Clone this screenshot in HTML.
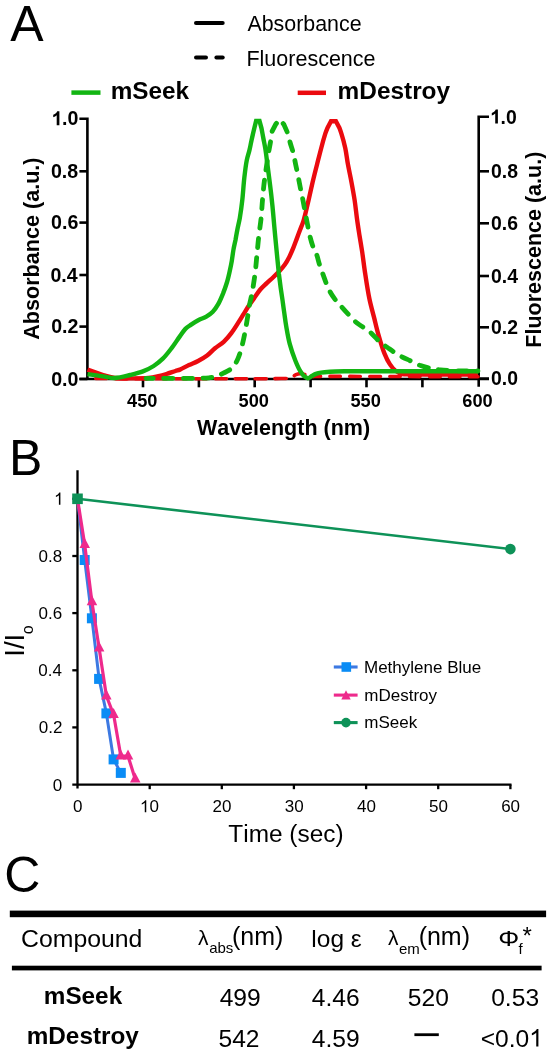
<!DOCTYPE html>
<html><head><meta charset="utf-8"><style>
html,body{margin:0;padding:0;background:#fff;}
svg{display:block;font-family:"Liberation Sans",sans-serif;will-change:transform;font-kerning:none;}
</style></head><body>
<svg width="553" height="1050" viewBox="0 0 553 1050">
<rect width="553" height="1050" fill="#fff"/>
<text x="10.20" y="40.70" font-size="50" fill="#000" >A</text>
<line x1="196" y1="23.1" x2="222.7" y2="23.1" stroke="#000" stroke-width="4" stroke-linecap="round"/>
<line x1="196" y1="57.4" x2="206" y2="57.4" stroke="#000" stroke-width="4" stroke-linecap="round"/>
<line x1="216.4" y1="57.4" x2="222.7" y2="57.4" stroke="#000" stroke-width="4" stroke-linecap="round"/>
<text x="247.46" y="31.20" font-size="21.4" fill="#000" >Absorbance</text>
<text x="246.44" y="65.60" font-size="21.5" fill="#000" >Fluorescence</text>
<line x1="71.4" y1="92.6" x2="100.5" y2="92.6" stroke="#12b512" stroke-width="4.5"/>
<text x="110.70" y="98.50" font-size="24.3" font-weight="bold" fill="#000" >mSeek</text>
<line x1="297.7" y1="92.8" x2="326" y2="92.8" stroke="#eb0a0f" stroke-width="4.5"/>
<text x="337.59" y="98.50" font-size="24.4" font-weight="bold" fill="#000" >mDestroy</text>
<path d="M79.4,118.8H87.4V379.0" stroke="#000" stroke-width="2.6" fill="none"/>
<path d="M489,116.8H478.7V386.8" stroke="#000" stroke-width="2.6" fill="none"/>
<path d="M79.4,379 H489" stroke="#000" stroke-width="2.6" fill="none"/>
<path d="M79.4,171.3H87.4" stroke="#000" stroke-width="2.6" fill="none"/>
<path d="M79.4,222.6H87.4" stroke="#000" stroke-width="2.6" fill="none"/>
<path d="M79.4,275.0H87.4" stroke="#000" stroke-width="2.6" fill="none"/>
<path d="M79.4,326.6H87.4" stroke="#000" stroke-width="2.6" fill="none"/>
<path d="M79.4,379.0H87.4" stroke="#000" stroke-width="2.6" fill="none"/>
<path d="M478.7,171.3H489" stroke="#000" stroke-width="2.6" fill="none"/>
<path d="M478.7,223.3H489" stroke="#000" stroke-width="2.6" fill="none"/>
<path d="M478.7,276.0H489" stroke="#000" stroke-width="2.6" fill="none"/>
<path d="M478.7,327.3H489" stroke="#000" stroke-width="2.6" fill="none"/>
<path d="M478.7,378.6H489" stroke="#000" stroke-width="2.6" fill="none"/>
<path d="M143,379V387.3" stroke="#000" stroke-width="2.6" fill="none"/>
<path d="M198.9,379V387.3" stroke="#000" stroke-width="2.6" fill="none"/>
<path d="M254.7,379V387.3" stroke="#000" stroke-width="2.6" fill="none"/>
<path d="M310.6,379V387.3" stroke="#000" stroke-width="2.6" fill="none"/>
<path d="M366.5,379V387.3" stroke="#000" stroke-width="2.6" fill="none"/>
<path d="M422.4,379V387.3" stroke="#000" stroke-width="2.6" fill="none"/>
<path transform="translate(51.16,125.30) scale(0.01960,-0.01960)" d="M420 0H283V516Q208 446 106 412V536Q160 554 223 603T309 716H420V0Z" fill="#000"/><text x="62.05" y="125.30" font-size="19.6" font-weight="bold" fill="#000" >.0</text>
<text x="50.96" y="177.80" font-size="19.6" font-weight="bold" fill="#000" >0.8</text>
<text x="51.06" y="229.10" font-size="19.6" font-weight="bold" fill="#000" >0.6</text>
<text x="50.46" y="281.50" font-size="19.6" font-weight="bold" fill="#000" >0.4</text>
<text x="51.14" y="333.10" font-size="19.6" font-weight="bold" fill="#000" >0.2</text>
<text x="51.16" y="385.50" font-size="19.6" font-weight="bold" fill="#000" >0.0</text>
<path transform="translate(489.74,123.50) scale(0.01940,-0.01940)" d="M420 0H283V516Q208 446 106 412V536Q160 554 223 603T309 716H420V0Z" fill="#000"/><text x="500.53" y="123.50" font-size="19.4" font-weight="bold" fill="#000" >.0</text>
<text x="491.03" y="178.00" font-size="19.4" font-weight="bold" fill="#000" >0.8</text>
<text x="491.03" y="230.00" font-size="19.4" font-weight="bold" fill="#000" >0.6</text>
<text x="491.03" y="282.70" font-size="19.4" font-weight="bold" fill="#000" >0.4</text>
<text x="491.03" y="334.00" font-size="19.4" font-weight="bold" fill="#000" >0.2</text>
<text x="491.03" y="385.30" font-size="19.4" font-weight="bold" fill="#000" >0.0</text>
<text x="127.05" y="407.30" font-size="18.2" font-weight="bold" fill="#000" >450</text>
<text x="238.61" y="407.30" font-size="18.2" font-weight="bold" fill="#000" >500</text>
<text x="350.41" y="407.30" font-size="18.2" font-weight="bold" fill="#000" >550</text>
<text x="462.36" y="407.30" font-size="18.2" font-weight="bold" fill="#000" >600</text>
<text x="196.88" y="435.20" font-size="21.5" font-weight="bold" fill="#000" >Wavelength (nm)</text>
<text transform="translate(38.90,248.90) rotate(-90)" x="-90.95" y="0" font-size="21.6" font-weight="bold">Absorbance (a.u.)</text>
<text transform="translate(541.10,249.50) rotate(-90)" x="-98.16" y="0" font-size="21.5" font-weight="bold">Fluorescence (a.u.)</text>
<path d="M87.5,378.5C87.5,378.5 257.1,379.2 281.0,378.5C286.4,378.3 288.3,378.8 291.0,377.9C293.1,377.2 294.4,375.3 296.0,374.6C297.4,374.0 298.7,373.7 300.0,373.6C301.3,373.5 302.6,373.8 304.0,374.2C305.6,374.6 307.3,375.6 309.0,376.0C310.6,376.4 314.0,376.4 314.0,376.4" fill="none" stroke="#eb0a0f" stroke-width="3.6" stroke-dasharray="11.2 8.7" stroke-dashoffset="11.55" stroke-linecap="round"/>
<path d="M311.8,376.4C311.8,376.4 371.5,376.4 400.0,376.5C426.8,376.6 478.0,376.8 478.0,376.8" fill="none" stroke="#eb0a0f" stroke-width="3.6" stroke-dasharray="10.5 9.4" stroke-dashoffset="1.7" stroke-linecap="round"/>
<path d="M87.5,369.6C87.5,369.6 98.2,373.5 103.1,375.0C107.3,376.2 110.6,377.4 114.8,378.0C119.5,378.7 124.7,378.4 130.0,378.4C135.8,378.4 143.3,378.5 148.3,378.0C151.8,377.6 154.3,377.1 157.3,376.4C160.3,375.7 163.4,374.9 166.4,374.0C169.4,373.1 172.9,371.8 175.4,371.0C177.2,370.4 178.2,370.3 180.0,369.6C182.5,368.6 186.0,366.4 189.0,365.0C192.0,363.6 195.1,362.6 198.1,361.0C201.2,359.4 204.3,357.6 207.1,355.5C209.9,353.4 212.2,350.6 215.0,348.3C217.8,346.0 221.0,344.3 223.7,341.8C226.5,339.2 229.0,336.2 231.3,333.1C233.7,330.0 235.8,326.6 237.8,323.4C239.7,320.4 241.4,317.6 243.2,314.7C245.0,311.8 246.8,308.8 248.6,306.0C250.4,303.4 252.1,301.0 254.0,298.4C256.0,295.6 258.1,292.1 260.3,289.5C262.3,287.2 264.4,285.4 266.5,283.4C268.6,281.4 270.9,279.5 273.0,277.5C275.2,275.4 277.5,273.2 279.5,271.0C281.4,268.9 283.3,266.8 284.9,264.5C286.6,262.1 287.9,259.6 289.3,256.9C290.8,253.9 292.3,250.3 293.6,247.1C294.8,244.1 295.8,241.3 296.9,238.4C298.0,235.5 299.0,232.7 300.1,229.8C301.2,226.9 302.5,224.1 303.4,221.1C304.4,218.1 305.0,215.2 305.8,212.0C306.7,208.4 307.5,204.7 308.5,200.4C309.7,195.0 311.2,188.3 312.6,182.3C314.0,176.3 315.6,170.0 317.1,164.2C318.5,158.7 319.8,153.4 321.2,148.2C322.5,143.2 324.1,137.5 325.3,133.7C326.1,131.2 327.6,127.6 327.6,127.6L331.0,121.2L335.9,121.2L339.3,127.6C339.3,127.6 340.6,131.2 341.4,133.7C342.6,137.5 344.2,143.2 345.3,148.2C346.4,153.4 346.9,158.7 347.9,164.2C349.0,170.1 350.4,176.3 351.5,182.3C352.6,188.2 353.7,194.1 354.6,200.0C355.5,206.0 356.1,212.1 356.9,218.1C357.7,224.1 358.7,230.4 359.6,236.2C360.5,241.6 361.3,246.3 362.2,252.0C363.2,258.8 364.1,266.8 365.3,274.4C366.5,282.4 367.8,291.1 369.4,298.8C370.8,305.7 372.7,312.2 374.3,318.4C375.7,324.1 376.8,329.0 378.4,334.6C380.1,340.6 382.2,348.0 384.4,353.3C386.1,357.5 387.8,361.1 389.8,364.1C391.5,366.6 393.1,368.8 395.2,370.5C397.3,372.1 399.9,373.4 402.4,374.0C404.8,374.6 406.6,374.3 410.0,374.4C416.7,374.6 429.4,374.5 440.0,374.5C451.9,374.5 478.0,374.5 478.0,374.5" fill="none" stroke="#eb0a0f" stroke-width="4.4" stroke-linejoin="miter"/>
<path d="M87.5,374.1C87.5,374.1 98.3,375.7 103.1,376.4C107.3,377.0 110.6,378.1 114.8,378.0C119.6,377.9 125.3,376.2 130.2,375.0C134.7,373.9 138.9,372.9 142.9,371.4C146.7,369.9 150.4,368.1 153.7,366.0C157.0,363.9 159.9,361.5 162.8,358.7C166.0,355.6 168.9,351.6 171.8,347.9C174.7,344.1 177.5,339.5 180.0,336.1C182.0,333.4 183.5,330.8 185.4,328.9C186.9,327.4 188.2,326.6 190.0,325.4C192.4,323.7 195.8,321.5 198.7,320.0C201.3,318.7 203.9,318.1 206.3,316.7C208.6,315.3 210.9,313.8 212.8,311.8C214.9,309.7 216.6,307.0 218.2,304.2C220.0,301.0 221.6,297.0 223.1,293.4C224.5,289.8 225.8,286.1 226.9,282.5C228.0,278.9 228.8,275.3 229.6,271.7C230.4,268.1 231.2,264.4 231.8,260.8C232.4,257.2 232.8,253.5 233.4,250.0C234.0,246.6 234.8,243.3 235.5,240.0C236.1,236.7 236.6,233.5 237.3,230.0C238.0,226.2 239.0,222.5 239.8,218.1C240.7,212.7 241.6,206.3 242.3,200.0C243.1,193.0 243.5,184.9 244.3,178.0C245.0,171.9 245.7,165.7 246.7,160.6C247.5,156.6 248.7,153.5 249.5,150.0C250.3,146.6 250.8,143.5 251.6,140.0C252.4,136.2 254.3,128.3 254.3,128.3L256.1,121.0L259.5,121.0L261.5,128.3C261.5,128.3 262.7,134.7 263.3,138.0C263.9,141.3 264.6,144.3 265.2,148.0C266.0,152.7 266.7,158.8 267.4,164.2C268.1,169.6 268.8,175.0 269.5,180.5C270.2,186.2 271.0,192.3 271.6,198.0C272.2,203.4 272.7,208.2 273.2,214.0C273.8,220.8 274.5,229.0 275.2,236.2C275.8,243.0 276.5,249.6 277.1,256.0C277.7,262.1 278.3,268.4 278.9,274.0C279.5,279.0 280.1,283.5 280.7,288.0C281.3,292.2 281.9,296.1 282.5,300.0C283.0,303.7 283.4,307.0 284.0,311.0C284.7,315.7 285.3,320.9 286.2,326.2C287.2,332.0 288.2,338.4 289.8,344.2C291.3,349.8 293.4,355.7 295.3,360.5C296.9,364.5 298.6,368.4 300.3,371.2C301.6,373.3 302.9,375.1 304.3,376.3C305.4,377.2 306.7,378.2 307.9,378.2C309.2,378.2 310.5,376.7 311.8,376.0C313.2,375.3 314.5,374.5 316.0,373.9C317.6,373.3 319.1,372.9 321.0,372.6C323.5,372.2 326.6,372.0 330.0,371.8C334.4,371.5 340.0,371.4 345.0,371.3C350.0,371.2 353.3,371.2 360.0,371.2C373.3,371.2 400.2,371.3 420.0,371.3C439.5,371.3 478.0,371.3 478.0,371.3" fill="none" stroke="#12b512" stroke-width="4.4" stroke-linejoin="miter"/>
<path d="M146.0,378.3C146.0,378.3 189.6,378.6 200.0,378.3C204.3,378.2 206.2,378.1 209.0,377.8C211.5,377.5 213.8,377.3 216.2,376.6C218.7,375.8 220.9,374.5 223.4,373.2C226.3,371.7 230.0,370.2 232.4,367.8C234.8,365.4 236.4,362.0 237.9,358.7C239.5,355.3 240.4,351.9 241.5,347.9C242.8,343.1 244.1,336.9 245.1,331.6C246.1,326.6 246.8,321.8 247.6,317.1C248.3,312.8 248.8,308.7 249.6,304.5C250.4,300.3 251.5,296.5 252.3,291.8C253.3,286.0 254.4,278.7 255.2,272.3C256.0,266.2 256.4,260.2 257.0,254.2C257.6,248.2 258.1,242.2 258.8,236.2C259.5,230.2 260.5,224.1 261.1,218.1C261.7,212.1 262.0,205.7 262.5,200.0C262.9,195.0 263.3,190.3 263.8,185.9C264.2,182.1 264.7,178.7 265.2,175.1C265.7,171.5 266.3,167.8 266.8,164.2C267.3,160.6 267.8,157.0 268.4,153.4C269.0,149.8 269.8,146.2 270.4,142.5C271.0,138.8 272.1,131.3 272.1,131.3L275.8,124.2L279.6,119.6L283.8,124.4L287.7,133.2C287.7,133.2 289.2,139.3 290.1,142.5C291.1,146.0 292.5,149.8 293.4,153.4C294.3,157.0 294.8,160.4 295.6,164.2C296.5,168.3 297.4,172.8 298.3,177.2C299.2,181.8 300.2,187.2 301.0,191.3C301.7,194.6 302.2,196.6 302.9,200.0C303.9,204.9 305.1,212.1 306.3,218.1C307.5,224.1 308.6,230.8 309.9,236.2C311.0,240.6 312.2,244.8 313.5,248.0C314.5,250.4 315.6,251.7 316.5,254.1C317.7,257.3 318.6,262.0 319.8,265.5C320.8,268.7 321.9,271.4 323.0,274.4C324.1,277.4 325.1,280.4 326.3,283.4C327.5,286.4 328.8,289.5 330.3,292.3C331.8,294.9 333.4,297.2 335.2,299.6C337.1,302.1 339.5,304.5 341.7,307.0C344.1,309.7 346.5,312.4 349.1,315.1C351.7,317.8 354.5,321.0 357.2,323.2C359.4,325.0 361.5,326.0 363.7,327.5C365.9,329.0 368.0,330.3 370.2,332.2C373.0,334.6 375.9,338.3 378.9,341.0C381.8,343.6 384.8,345.6 388.0,347.9C391.4,350.3 395.1,353.0 398.8,355.1C402.4,357.2 406.1,358.8 409.7,360.5C413.3,362.2 416.8,364.2 420.5,365.5C424.1,366.8 427.9,367.6 431.4,368.4C434.5,369.1 436.8,369.5 440.4,369.9C445.7,370.5 453.6,370.7 460.0,370.9C466.1,371.1 478.0,371.0 478.0,371.0" fill="none" stroke="#12b512" stroke-width="4.8" stroke-dasharray="9.2 10.3" stroke-dashoffset="1.85" stroke-linecap="round"/>
<text x="9.00" y="474.50" font-size="50" fill="#000" >B</text>
<path d="M77.5,470.2V788.6" stroke="#000" stroke-width="2.3" fill="none"/>
<path d="M72.3,784.6H511.5" stroke="#000" stroke-width="2.3" fill="none"/>
<path d="M72.3,727.4H77.5" stroke="#000" stroke-width="2.3" fill="none"/>
<path d="M72.3,670.3H77.5" stroke="#000" stroke-width="2.3" fill="none"/>
<path d="M72.3,613.1H77.5" stroke="#000" stroke-width="2.3" fill="none"/>
<path d="M72.3,556.0H77.5" stroke="#000" stroke-width="2.3" fill="none"/>
<path d="M72.3,498.8H77.5" stroke="#000" stroke-width="2.3" fill="none"/>
<path d="M149.7,784.6V789.2" stroke="#000" stroke-width="2.3" fill="none"/>
<path d="M221.8,784.6V789.2" stroke="#000" stroke-width="2.3" fill="none"/>
<path d="M293.9,784.6V789.2" stroke="#000" stroke-width="2.3" fill="none"/>
<path d="M366.1,784.6V789.2" stroke="#000" stroke-width="2.3" fill="none"/>
<path d="M438.2,784.6V789.2" stroke="#000" stroke-width="2.3" fill="none"/>
<path d="M510.4,784.6V789.2" stroke="#000" stroke-width="2.3" fill="none"/>
<text x="52.71" y="790.50" font-size="17" fill="#000" >0</text>
<text x="38.72" y="733.34" font-size="17" fill="#000" >0.2</text>
<text x="38.37" y="676.18" font-size="17" fill="#000" >0.4</text>
<text x="38.61" y="619.02" font-size="17" fill="#000" >0.6</text>
<text x="38.61" y="561.86" font-size="17" fill="#000" >0.8</text>
<path transform="translate(54.08,504.70) scale(0.01700,-0.01700)" d="M372 0H284V560Q252 530 200 499T106 453V538Q178 572 232 620T309 716H372V0Z" fill="#000"/>
<text x="73.07" y="812.30" font-size="17" fill="#000" >0</text>
<path transform="translate(139.93,812.30) scale(0.01700,-0.01700)" d="M372 0H284V560Q252 530 200 499T106 453V538Q178 572 232 620T309 716H372V0Z" fill="#000"/><text x="149.38" y="812.30" font-size="17" fill="#000" >0</text>
<text x="212.55" y="812.30" font-size="17" fill="#000" >20</text>
<text x="284.80" y="812.30" font-size="17" fill="#000" >30</text>
<text x="357.08" y="812.30" font-size="17" fill="#000" >40</text>
<text x="429.09" y="812.30" font-size="17" fill="#000" >50</text>
<text x="501.15" y="812.30" font-size="17" fill="#000" >60</text>
<text x="228.35" y="842.00" font-size="24.4" fill="#000" >Time (sec)</text>
<g transform="translate(23.3,645.5) rotate(-90)"><text x="-11.2" y="0.4" font-size="27.5">I/I</text><text x="11.3" y="9.4" font-size="16">o</text></g>
<polyline points="77.5,498.8 84.7,560.0 91.9,618.3 99.1,678.9 106.4,713.4 113.6,759.4 120.8,772.9" fill="none" stroke="#3d79e2" stroke-width="3" stroke-linejoin="round"/>
<rect x="79.7" y="555.0" width="10" height="10" fill="#0a8cf5"/>
<rect x="86.9" y="613.3" width="10" height="10" fill="#0a8cf5"/>
<rect x="94.1" y="673.9" width="10" height="10" fill="#0a8cf5"/>
<rect x="101.4" y="708.4" width="10" height="10" fill="#0a8cf5"/>
<rect x="108.6" y="754.4" width="10" height="10" fill="#0a8cf5"/>
<rect x="115.8" y="767.9" width="10" height="10" fill="#0a8cf5"/>
<polyline points="77.5,498.8 84.7,544.5 91.9,601.7 99.1,648.0 106.4,696.0 113.6,714.6 120.8,756.0 128.0,756.0 135.2,778.9" fill="none" stroke="#ee2a8c" stroke-width="3.2" stroke-linejoin="round"/>
<path d="M84.7,538.0L90.0,548.0L79.5,548.0Z" fill="#ee2a8c"/>
<path d="M91.9,595.2L97.2,605.2L86.7,605.2Z" fill="#ee2a8c"/>
<path d="M99.1,641.5L104.4,651.5L93.9,651.5Z" fill="#ee2a8c"/>
<path d="M106.4,689.5L111.6,699.5L101.1,699.5Z" fill="#ee2a8c"/>
<path d="M113.6,708.1L118.8,718.1L108.3,718.1Z" fill="#ee2a8c"/>
<path d="M120.8,749.5L126.0,759.5L115.5,759.5Z" fill="#ee2a8c"/>
<path d="M128.0,749.5L133.3,759.5L122.8,759.5Z" fill="#ee2a8c"/>
<path d="M135.2,772.4L140.5,782.4L130.0,782.4Z" fill="#ee2a8c"/>
<polyline points="77.5,498.8 510.4,549.1" fill="none" stroke="#0e9258" stroke-width="2.6"/>
<rect x="72.2" y="493.5" width="10.6" height="10.6" fill="#0e9258"/>
<circle cx="510.4" cy="549.1" r="5.3" fill="#0e9258"/>
<line x1="333.8" y1="667.0" x2="357.6" y2="667.0" stroke="#3d79e2" stroke-width="3.1"/>
<rect x="341.5" y="662.2" width="9.6" height="9.6" fill="#0a8cf5"/>
<text x="364.01" y="672.50" font-size="17" fill="#000" >Methylene Blue</text>
<line x1="333.8" y1="695.1" x2="357.6" y2="695.1" stroke="#ee2a8c" stroke-width="3.1"/>
<path d="M346.0,690.3L350.7,699.6L341.3,699.6Z" fill="#ee2a8c"/>
<text x="364.27" y="700.60" font-size="17" fill="#000" >mDestroy</text>
<line x1="333.8" y1="722.6" x2="357.6" y2="722.6" stroke="#0e9258" stroke-width="3.1"/>
<circle cx="346" cy="722.6" r="4.8" fill="#0e9258"/>
<text x="364.27" y="728.10" font-size="17" fill="#000" >mSeek</text>
<text x="4.36" y="891.50" font-size="50" fill="#000" >C</text>
<rect x="9.8" y="910.6" width="536.3" height="6.6" fill="#000"/>
<rect x="11.9" y="965.7" width="529.7" height="4.7" fill="#000"/>
<text x="21.04" y="947.30" font-size="24.8" fill="#000" >Compound</text>
<text x="197.96" y="945.30" font-size="21" fill="#000" >λ</text>
<text x="209.16" y="953.30" font-size="15" fill="#000" >abs</text>
<text x="232.05" y="945.30" font-size="25" fill="#000" >(nm)</text>
<text x="311.35" y="946.50" font-size="24.5" fill="#000" >log ε</text>
<text x="387.96" y="945.30" font-size="21" fill="#000" >λ</text>
<text x="398.96" y="954.30" font-size="15" fill="#000" >em</text>
<text x="418.65" y="945.30" font-size="25" fill="#000" >(nm)</text>
<g transform="translate(499.7,945.8) scale(1.18,1)"><text x="-1.27" y="0.00" font-size="22.3" fill="#000" >Φ</text></g>
<text x="518.39" y="954.20" font-size="15" fill="#000" >f</text>
<text x="522.41" y="944.00" font-size="24" fill="#000" >*</text>
<text x="43.81" y="1004.20" font-size="24.3" font-weight="bold" fill="#000" >mSeek</text>
<text x="26.72" y="1043.50" font-size="24.3" font-weight="bold" fill="#000" >mDestroy</text>
<text x="219.64" y="1006.40" font-size="24.6" fill="#000" >499</text>
<text x="218.52" y="1046.50" font-size="24.6" fill="#000" >542</text>
<text x="311.74" y="1006.40" font-size="24.6" fill="#000" >4.46</text>
<text x="311.74" y="1046.50" font-size="24.6" fill="#000" >4.59</text>
<text x="407.82" y="1006.00" font-size="24.6" fill="#000" >520</text>
<rect x="414.4" y="1033.3" width="24.4" height="2.8" fill="#000"/>
<text x="491.20" y="1006.00" font-size="24.6" fill="#000" >0.53</text>
<text x="480.69" y="1046.50" font-size="24.6" fill="#000" >&lt;0.0</text><path transform="translate(529.25,1046.50) scale(0.02460,-0.02460)" d="M372 0H284V560Q252 530 200 499T106 453V538Q178 572 232 620T309 716H372V0Z" fill="#000"/>
</svg>
</body></html>
